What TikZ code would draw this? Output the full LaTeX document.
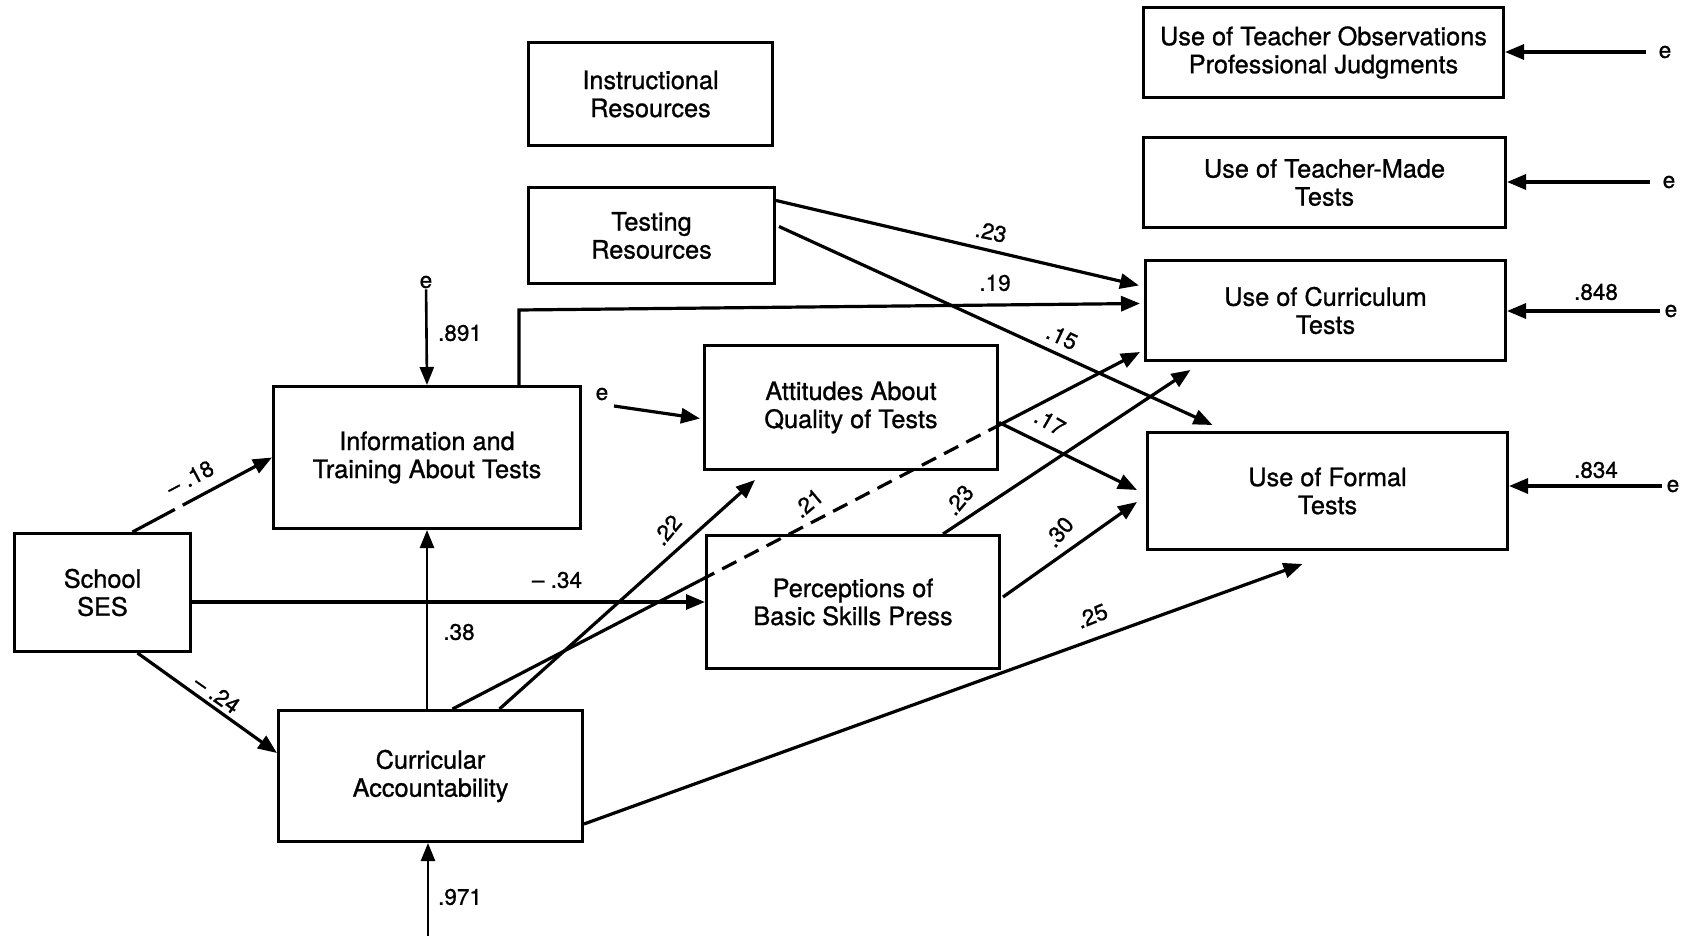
\documentclass[tikz,border=0pt]{standalone}
\usepackage{fontspec}
\setmainfont{TeX Gyre Heros}[FakeBold=1]
\usetikzlibrary{arrows.meta,calc}
\begin{document}
\begin{tikzpicture}[x=1pt,y=-1pt,
  box/.style={draw,line width=3pt,inner sep=0pt,align=center,font=\fontsize{25.3}{28}\selectfont},
  lbl/.style={font=\fontsize{22.5}{24}\selectfont,inner sep=1pt},
  conn/.style={line width=3.2pt,-{Triangle[length=19pt,width=15pt]}},
  thinarr/.style={line width=2.6pt,-{Triangle[length=18pt,width=14pt]}},
  plain/.style={line width=3.2pt},
]
\useasboundingbox (0,0) rectangle (1695,936);

% boxes
\node[box,minimum width=176pt,minimum height=118pt] (ses) at (102.5,592.5) {School\\SES};
\node[box,minimum width=307pt,minimum height=142pt] (info) at (427,457.5) {Information and\\Training About Tests};
\node[box,minimum width=304pt,minimum height=131pt] (curr) at (430.5,776) {Curricular\\Accountability};
\node[box,minimum width=244pt,minimum height=103pt] (instr) at (650.5,94) {Instructional\\Resources};
\node[box,minimum width=246pt,minimum height=96pt] (testing) at (651.5,235.5) {Testing\\Resources};
\node[box,minimum width=293pt,minimum height=124pt] (attit) at (851,407.5) {Attitudes About\\Quality of Tests};
\node[box,minimum width=293pt,minimum height=133pt] (perc) at (853,602) {Perceptions of\\Basic Skills Press};
\node[box,minimum width=360pt,minimum height=90pt] (tobs) at (1323.5,52.5) {Use of Teacher Observations\\Professional Judgments};
\node[box,minimum width=362pt,minimum height=90pt] (tmade) at (1324.5,182.5) {Use of Teacher-Made\\Tests};
\node[box,minimum width=360pt,minimum height=100pt] (ctests) at (1325.5,310.5) {Use of Curriculum\\Tests};
\node[box,minimum width=360pt,minimum height=117pt] (ftests) at (1327.5,491) {Use of Formal\\Tests};

% error terms
\node[lbl] (e1) at (426,282) {e};
\node[lbl] (e2) at (602,394) {e};
\node[lbl] (e3) at (1665,52) {e};
\node[lbl] (e4) at (1669,182) {e};
\node[lbl] (e5) at (1671,311) {e};
\node[lbl] (e6) at (1673,486) {e};
\coordinate (cb) at (428,936);

% School SES paths
\draw[conn,dash pattern=on 48pt off 9pt on 300pt off 0pt] ($(ses.north)+(30,0)$) -- (info.west);
\node[lbl,rotate=28] (l18) at (190,478) {-- .18};
\draw[conn] ($(ses.south)+(35,0)$) -- ($(curr.west)+(0,-23)$);
\node[lbl,rotate=-35] (l24) at (217,694) {-- .24};
\draw[conn] (ses.east |- perc.west) -- (perc.west);
\node[lbl] (l34) at (557,580) {-- .34};

% vertical arrows
\draw[thinarr] (curr.north -| info.south) -- (info.south);
\node[lbl] (l38) at (459,632) {.38};
\draw[thinarr] (e1) -- (info.north);
\node[lbl] (l891) at (460,333) {.891};
\draw[thinarr] (cb) -- (curr.south -| cb);
\node[lbl] (l971) at (460,897) {.971};

% e -> attitudes
\draw[conn] ($(e2)+(12,12)$) -- ($(attit.west)+(-3,11)$);

% information -> curriculum tests
\draw[conn] ($(info.north)+(92,0)$) -- ++(0,-75) -- ($(ctests.west)+(-4,-7)$);
\node[lbl] (l19) at (995,283) {.19};

% testing resources
\draw[conn] ($(testing.east)+(0,-35)$) -- ($(ctests.west)+(-5,-25)$);
\node[lbl,rotate=-12] (l23a) at (991,232) {.23};
\draw[conn] ($(testing.east)+(3,-9)$) -- ($(ftests.north)+(-115,-6)$);
\node[lbl,rotate=-25] (l15) at (1062,337) {.15};

% attitudes -> formal
\draw[conn] ($(attit.east)+(0,15)$) -- ($(ftests.west)+(-9,-1)$);
\node[lbl,rotate=-30] (l17) at (1050,422) {.17};

% perceptions
\draw[conn] ($(perc.east)+(2,-5)$) -- ($(ftests.west)+(-9,11)$);
\node[lbl,rotate=50] (l30) at (1059,532) {.30};
\draw[conn] ($(perc.north)+(90,0)$) -- ($(ctests.south)+(-135,8)$);
\node[lbl,rotate=50] (l23b) at (959,500) {.23};

% curricular accountability
\coordinate (a21) at ($(curr.north)+(22,0)$);
\coordinate (b21) at ($(ctests.south west)+(-4,-10)$);
\draw[plain] (a21) -- ($(a21)!0.36!(b21)$);
\draw[plain,dash pattern=on 16pt off 9pt] ($(a21)!0.36!(b21)$) -- ($(a21)!0.79!(b21)$);
\draw[conn] ($(a21)!0.79!(b21)$) -- (b21);
\node[lbl,rotate=40] (l21) at (808,503) {.21};
\draw[conn] ($(curr.north)+(69,0)$) -- ($(attit.south)+(-96,9)$);
\node[lbl,rotate=50] (l22) at (667,530) {.22};
\draw[conn] ($(curr.east)+(0,48)$) -- ($(ftests.south)+(-25,13)$);
\node[lbl,rotate=22] (l25) at (1092,616) {.25};

% right-hand error arrows
\draw[conn,shorten <=12pt] (e3.west) -- (tobs.east |- e3.west);
\draw[conn,shorten <=12pt] (e4.west) -- (tmade.east |- e4.west);
\draw[conn,shorten <=4pt] (e5.west) -- (ctests.east |- e5.west);
\node[lbl] (l848) at (1596,292) {.848};
\draw[conn,shorten <=4pt] (e6.west) -- (ftests.east |- e6.west);
\node[lbl] (l834) at (1596,470) {.834};
\end{tikzpicture}
\end{document}
